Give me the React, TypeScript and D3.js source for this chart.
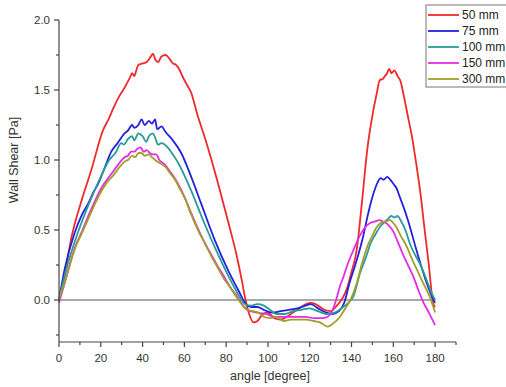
import React from "react";
import * as d3 from "d3";

const seriesNames = ["50 mm", "75 mm", "100 mm", "150 mm", "300 mm"];
const seriesColors = ["#ee2a2a", "#2222dd", "#2a9a9a", "#e62ae6", "#a0a028"];

const xTicks = [0, 20, 40, 60, 80, 100, 120, 140, 160, 180];
const yTicks = [0.0, 0.5, 1.0, 1.5, 2.0];

const s50: [number, number][] = [
  [0, 0], [2, 0.12], [6, 0.45], [11, 0.72], [15.5, 0.93], [21, 1.21], [24, 1.3], [26, 1.37], [29, 1.46],
  [31.5, 1.52], [34, 1.59], [35, 1.62], [36, 1.6], [37, 1.64], [38, 1.68], [40, 1.69], [42, 1.7], [44, 1.74],
  [45, 1.76], [46, 1.72], [47.5, 1.7], [49, 1.74], [51, 1.75], [53, 1.72], [54.5, 1.69], [56, 1.68],
  [57.5, 1.65], [59, 1.6], [61.5, 1.53], [63, 1.49], [66.5, 1.31], [70, 1.15], [73, 1.0], [76, 0.84],
  [79, 0.67], [82, 0.5], [85, 0.32], [87.5, 0.14], [89, 0.02], [91, -0.1], [93, -0.16], [95, -0.15],
  [97, -0.11], [99, -0.09], [101, -0.1], [103, -0.13], [106, -0.14], [109, -0.12], [112, -0.09],
  [115, -0.06], [118, -0.03], [121, -0.02], [124, -0.04], [127, -0.07], [130, -0.08], [133, -0.04],
  [136, 0.02], [138, 0.09], [140, 0.2], [142.5, 0.36], [145, 0.7], [147.5, 1.07], [150.5, 1.36],
  [152, 1.47], [153.5, 1.57], [155, 1.58], [156, 1.6], [157, 1.62], [158, 1.65], [159.2, 1.62],
  [160.5, 1.64], [162, 1.6], [163.5, 1.56], [165, 1.46], [167, 1.31], [169, 1.16], [171, 0.97],
  [173, 0.76], [175, 0.5], [177, 0.25], [179, -0.02], [180, -0.05],
];

const s75: [number, number][] = [
  [0, 0], [2.7, 0.22], [7.5, 0.48], [11, 0.61], [14, 0.69], [16.5, 0.77], [18.7, 0.83], [22, 0.95],
  [25, 1.06], [28, 1.12], [31.4, 1.19], [33, 1.21], [35, 1.25], [36, 1.23], [38, 1.25], [39.5, 1.29],
  [41, 1.25], [43, 1.28], [44.5, 1.26], [46, 1.29], [47, 1.22], [49, 1.24], [51, 1.2], [54.5, 1.14],
  [58.5, 1.05], [63, 0.89], [68, 0.69], [74.5, 0.43], [81, 0.21], [86.5, 0.05], [89, -0.02],
  [92, -0.05], [95, -0.05], [98, -0.07], [102, -0.09], [106, -0.08], [110, -0.07], [114, -0.06],
  [118, -0.04], [120.5, -0.03], [124, -0.06], [128, -0.09], [131, -0.1], [134, -0.08], [136.5, -0.02],
  [139, 0.12], [142, 0.26], [145.5, 0.45], [148, 0.62], [150.5, 0.76], [152.5, 0.84], [154, 0.87],
  [155.5, 0.86], [157, 0.88], [158.5, 0.86], [160, 0.83], [161.5, 0.8], [163, 0.74], [165, 0.66],
  [167, 0.57], [171, 0.36], [176, 0.12], [178, 0.04], [180, -0.02],
];

const s100: [number, number][] = [
  [0, 0], [3.5, 0.22], [9, 0.48], [15.5, 0.73], [20, 0.88], [24, 1.0], [27, 1.05], [29.8, 1.12],
  [31, 1.11], [33, 1.15], [35, 1.17], [36, 1.14], [38, 1.19], [40, 1.17], [41.8, 1.13], [43, 1.17],
  [45, 1.19], [46, 1.16], [47.4, 1.11], [49, 1.12], [52, 1.09], [54, 1.05], [57, 0.98], [63, 0.79],
  [69.5, 0.55], [76, 0.33], [82.5, 0.13], [87, 0.01], [89, -0.03], [92, -0.04], [95, -0.03],
  [98, -0.04], [101, -0.07], [104, -0.1], [108, -0.1], [112, -0.08], [116, -0.07], [120, -0.06],
  [124, -0.08], [128, -0.1], [132, -0.09], [136, -0.05], [138.5, -0.02], [141, 0.03], [144, 0.19],
  [147, 0.31], [149, 0.4], [151.5, 0.47], [154, 0.53], [156, 0.56], [157.5, 0.58], [159, 0.6],
  [160.5, 0.59], [162, 0.6], [163.5, 0.57], [166, 0.49], [168, 0.4], [170.5, 0.32], [173, 0.25],
  [176, 0.14], [178, 0.06], [180, 0.0],
];

const s150: [number, number][] = [
  [0, -0.02], [2.7, 0.12], [7.5, 0.37], [11, 0.49], [14, 0.6], [17, 0.7], [19.5, 0.78], [22, 0.84],
  [25, 0.9], [28, 0.96], [31.4, 1.02], [33, 1.03], [34.5, 1.06], [36, 1.06], [37.5, 1.08], [39, 1.09],
  [40.5, 1.06], [42, 1.07], [43.5, 1.05], [45, 1.04], [46.5, 1.04], [48, 1.0], [50.5, 0.97],
  [53, 0.92], [55.4, 0.87], [58, 0.8], [60.2, 0.73], [63, 0.63], [66.5, 0.51], [70, 0.4], [73, 0.32],
  [76, 0.24], [79.3, 0.16], [82, 0.09], [85.5, 0.02], [88, -0.04], [91.5, -0.08], [95, -0.09],
  [99, -0.1], [103, -0.12], [108, -0.12], [114, -0.12], [118, -0.12], [122, -0.13], [126, -0.13],
  [128.5, -0.12], [131, -0.07], [133, 0.02], [134.5, 0.1], [136, 0.16], [138, 0.25], [141, 0.36],
  [144, 0.46], [146.5, 0.52], [149, 0.55], [151, 0.56], [153.5, 0.57], [155, 0.56], [156.5, 0.55],
  [158, 0.53], [160, 0.49], [162, 0.42], [164.5, 0.33], [167, 0.25], [169.5, 0.17], [172, 0.07],
  [174.5, -0.02], [177, -0.09], [180, -0.18],
];

const s300: [number, number][] = [
  [0, 0], [3, 0.14], [8, 0.38], [11, 0.48], [14, 0.58], [17, 0.68], [20, 0.77], [23, 0.84], [26, 0.89],
  [29, 0.95], [31.5, 0.99], [33, 1.0], [35, 1.03], [36.5, 1.02], [38, 1.05], [39.5, 1.05], [41, 1.03],
  [43, 1.04], [44.5, 1.02], [46, 1.0], [48, 0.98], [51, 0.95], [53, 0.91], [55.5, 0.86], [58, 0.79],
  [60.5, 0.72], [63, 0.62], [66.5, 0.5], [70, 0.4], [73, 0.31], [76, 0.23], [79, 0.15], [82, 0.09],
  [85, 0.02], [87.5, -0.03], [90, -0.07], [93, -0.08], [95.5, -0.09], [98, -0.12], [101, -0.13],
  [104, -0.12], [107.5, -0.15], [111, -0.14], [114, -0.14], [118, -0.14], [122, -0.15], [125, -0.16],
  [128.5, -0.19], [131, -0.17], [134.5, -0.12], [137, -0.06], [139.5, 0.0], [142.5, 0.12], [145, 0.26],
  [147.5, 0.38], [150, 0.46], [152, 0.52], [154, 0.55], [156, 0.56], [158.4, 0.57], [160, 0.55],
  [161.5, 0.52], [163.5, 0.46], [166.5, 0.38], [169, 0.29], [171.5, 0.21], [174, 0.13], [176, 0.07],
  [178, 0.0], [180, -0.09],
];

const allSeries = [s50, s75, s100, s150, s300];

export default function App() {
  const W = 506, H = 387;
  const x = d3.scaleLinear().domain([0, 190]).range([59, 456]);
  const y = d3.scaleLinear().domain([-0.3, 2.0]).range([342, 20]);
  const line = d3.line<[number, number]>().x((d) => x(d[0])).y((d) => y(d[1])).curve(d3.curveMonotoneX);
  const axisColor = "#444";
  const font = "Liberation Sans, Arial, sans-serif";
  const xMinor = d3.range(10, 200, 20);
  const yMinor = [-0.25, 0.25, 0.75, 1.25, 1.75];

  return (
    <svg width={W} height={H} style={{ position: "absolute", left: 0, top: 0, background: "#fff" }} fontFamily={font}>
      <rect x={0} y={0} width={W} height={H} fill="#fff" />
      <line x1={x(0)} x2={x(180)} y1={y(0)} y2={y(0)} stroke="#555" strokeWidth={1.1} />
      {allSeries.map((s, i) => (
        <path key={i} d={line(s) || ""} fill="none" stroke={seriesColors[i]} strokeWidth={1.8} strokeLinejoin="round" />
      ))}
      <line x1={x(0)} x2={x(0)} y1={y(-0.3)} y2={y(2.0)} stroke={axisColor} strokeWidth={1.2} />
      {yTicks.map((t) => (
        <g key={"yt" + t}>
          <line x1={x(0) - 5} x2={x(0)} y1={y(t)} y2={y(t)} stroke={axisColor} strokeWidth={1.2} />
          <text x={x(0) - 9} y={y(t)} dy="0.35em" textAnchor="end" fontSize={11.5} fill="#333">
            {t.toFixed(1)}
          </text>
        </g>
      ))}
      {yMinor.map((t) => (
        <line key={"ym" + t} x1={x(0) - 3} x2={x(0)} y1={y(t)} y2={y(t)} stroke={axisColor} strokeWidth={1.2} />
      ))}
      <line x1={x(0)} x2={x(190)} y1={y(-0.3)} y2={y(-0.3)} stroke={axisColor} strokeWidth={1.2} />
      {xTicks.map((t) => (
        <g key={"xt" + t}>
          <line x1={x(t)} x2={x(t)} y1={y(-0.3)} y2={y(-0.3) + 5} stroke={axisColor} strokeWidth={1.2} />
          <text x={x(t)} y={y(-0.3) + 20} textAnchor="middle" fontSize={11.5} fill="#333">
            {t}
          </text>
        </g>
      ))}
      {xMinor.map((t) => (
        <line key={"xm" + t} x1={x(t)} x2={x(t)} y1={y(-0.3)} y2={y(-0.3) + 3} stroke={axisColor} strokeWidth={1.2} />
      ))}
      <text x={270} y={380} textAnchor="middle" fontSize={12.5} fill="#333">angle [degree]</text>
      <text transform={`translate(18,160) rotate(-90)`} textAnchor="middle" fontSize={12.5} fill="#333">Wall Shear [Pa]</text>
      <rect x={426} y={5} width={100} height={82} fill="#fff" stroke="#777" strokeWidth={1} />
      {seriesNames.map((n, i) => (
        <g key={n}>
          <line x1={428} x2={459} y1={15 + i * 16} y2={15 + i * 16} stroke={seriesColors[i]} strokeWidth={1.8} />
          <text x={462} y={15 + i * 16} dy="0.35em" fontSize={12} fill="#222">{n}</text>
        </g>
      ))}
    </svg>
  );
}
